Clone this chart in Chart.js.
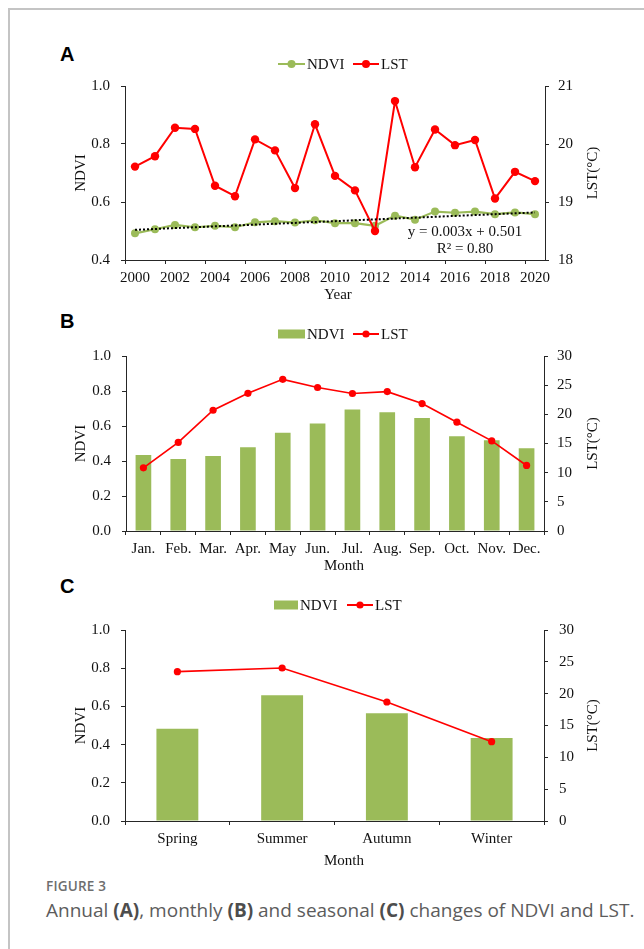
<!DOCTYPE html>
<html>
<head>
<meta charset="utf-8">
<script src="https://cdn.jsdelivr.net/npm/chart.js@4/dist/chart.umd.min.js"></script>
<style>
  html, body { margin: 0; padding: 0; background: #fff; }
  body { width: 644px; height: 949px; position: relative; overflow: hidden; }
  .frame { position: absolute; left: 8px; top: 8px; right: -4px; bottom: -4px;
           border-left: 2px solid #c4c4c4; border-top: 2px solid #c4c4c4; }
  canvas { position: absolute; left: 0; }
  .tag { position: absolute; font: bold 20px "Liberation Sans", Arial, sans-serif; color: #000; line-height: 20px; }
  .fig { position: absolute; left: 46px; top: 877px; font: 600 13.5px "Open Sans", sans-serif; color: #6e6e6e; letter-spacing: 0.2px; line-height: 18px; }
  .cap { position: absolute; left: 46px; top: 897px; font: 400 19px "Open Sans", sans-serif; color: #5c5c5c; white-space: nowrap; line-height: 26px; }
  .cap b { font-weight: 700; color: #4d4d4d; }
</style>
</head>
<body>
<div class="frame"></div>
<div class="tag" style="left:60px;top:44px;">A</div>
<div class="tag" style="left:60px;top:311px;">B</div>
<div class="tag" style="left:60px;top:576px;">C</div>
<div class="fig">FIGURE 3</div>
<div class="cap">Annual <b>(A)</b>, monthly <b>(B)</b> and seasonal <b>(C)</b> changes of NDVI and LST.</div>

<script>
// ---- Annual series (2000–2020) ----
const years = ['2000','2001','2002','2003','2004','2005','2006','2007','2008','2009','2010',
               '2011','2012','2013','2014','2015','2016','2017','2018','2019','2020'];
const ndviAnnual = [0.492, 0.506, 0.521, 0.513, 0.518, 0.513, 0.530, 0.534, 0.529, 0.537, 0.527,
                    0.527, 0.518, 0.553, 0.539, 0.567, 0.563, 0.567, 0.558, 0.564, 0.558];
const lstAnnual  = [19.61, 19.79, 20.28, 20.26, 19.28, 19.10, 20.08, 19.89, 19.24, 20.34, 19.45,
                    19.20, 18.50, 20.74, 19.60, 20.25, 19.98, 20.07, 19.06, 19.52, 19.36];
// Linear NDVI trend, as printed on the panel: y = 0.003x + 0.501, R² = 0.80
const trendSlope = 0.003;
const trendIntercept = 0.501;
const trendR2 = '0.80';

// ---- Monthly means ----
const months = ['Jan.','Feb.','Mar.','Apr.','May','Jun.','Jul.','Aug.','Sep.','Oct.','Nov.','Dec.'];
const ndviMonthly = [0.434, 0.411, 0.428, 0.479, 0.561, 0.614, 0.694, 0.679, 0.646, 0.542, 0.519, 0.473];
const lstMonthly  = [10.83, 15.18, 20.70, 23.60, 26.00, 24.60, 23.57, 23.90, 21.85, 18.65, 15.45, 11.24];

// ---- Seasonal means ----
const seasons = ['Spring','Summer','Autumn','Winter'];
const ndviSeasonal = [0.483, 0.658, 0.564, 0.435];
const lstSeasonal  = [23.45, 24.03, 18.69, 12.46];

// ---- Axis ranges ----
const ndviRangeAnnual = [0.4, 1.0, 0.2];
const lstRangeAnnual  = [18, 21, 1];
const ndviRange = [0, 1.0, 0.2];
const lstRange  = [0, 30, 5];

// ---- Styling ----
const GREEN = '#9BBB59';
const RED = '#FF0000';
const AXIS = '#262626';
const TEXT = '#111111';
const SERIF = '"Liberation Serif", "Times New Roman", serif';
const FONT = { family: SERIF, size: 15 };

// Draws legend, axis titles and free text for a panel (page coordinates shifted by panel top)
const decorPlugin = {
  id: 'decor',
  afterDraw(chart, args, opts) {
    const ctx = chart.ctx;
    const top = opts.panelTop;
    const ca = chart.chartArea;
    ctx.save();
    ctx.font = '15px ' + SERIF;
    ctx.fillStyle = TEXT;

    // legend
    let x = opts.legend.x;
    const ly = opts.legend.y - top;
    opts.legend.items.forEach(it => {
      const w = it.symbolWidth;
      if (it.kind === 'box') {
        ctx.fillStyle = it.color;
        ctx.fillRect(x, ly - 4.5, w, 9);
      } else {
        ctx.strokeStyle = it.color;
        ctx.lineWidth = 2;
        ctx.beginPath(); ctx.moveTo(x, ly); ctx.lineTo(x + w, ly); ctx.stroke();
        ctx.fillStyle = it.color;
        ctx.beginPath(); ctx.arc(x + w / 2, ly, it.radius, 0, Math.PI * 2); ctx.fill();
      }
      x += w + 2;
      ctx.fillStyle = TEXT;
      ctx.textAlign = 'left';
      ctx.textBaseline = 'alphabetic';
      ctx.fillText(it.label, x, ly + 5);
      x += ctx.measureText(it.label).width + opts.legend.gap;
    });

    // axis titles
    const cy = (ca.top + ca.bottom) / 2;
    ctx.fillStyle = TEXT;
    ctx.textAlign = 'center';
    ctx.textBaseline = 'alphabetic';
    [[opts.leftTitle, opts.leftTitleX], [opts.rightTitle, opts.rightTitleX]].forEach(([t, bx]) => {
      ctx.save();
      ctx.translate(bx, cy);
      ctx.rotate(-Math.PI / 2);
      ctx.fillText(t, 0, 0);
      ctx.restore();
    });
    ctx.fillText(opts.xTitle, opts.xTitleX, opts.xTitleY - top);

    // free notes
    (opts.notes || []).forEach(n => ctx.fillText(n.text, n.x, n.y - top));
    ctx.restore();
  }
};

function yScale(pos, range, width, fmt, pad) {
  return {
    position: pos,
    min: range[0], max: range[1],
    ticks: { stepSize: range[2], font: FONT, color: TEXT, padding: pad,
             callback: v => fmt(v) },
    grid: { drawOnChartArea: false, drawTicks: true, tickLength: 4, color: AXIS },
    border: { display: true, color: AXIS, width: 1 },
    afterFit(s) { s.width = width; }
  };
}

function xScale(height, everyOther) {
  return {
    type: 'category',
    offset: true,
    grid: { offset: true, drawOnChartArea: false, drawTicks: true, tickLength: 4,
            tickColor: c => (!everyOther || c.index % 2 === 0) ? AXIS : 'rgba(0,0,0,0)' },
    border: { display: true, color: AXIS, width: 1 },
    ticks: {
      autoSkip: false, maxRotation: 0, minRotation: 0, padding: 5, font: FONT, color: TEXT,
      callback(v, i) { return (!everyOther || i % 2 === 0) ? this.getLabelForValue(v) : ''; }
    },
    afterFit(s) { s.height = height; }
  };
}

function makePanel(geo, data, scales, decor) {
  const cv = document.createElement('canvas');
  cv.width = 644; cv.height = geo.height;
  cv.style.top = geo.top + 'px';
  cv.style.width = '644px'; cv.style.height = geo.height + 'px';
  document.body.appendChild(cv);
  decor.panelTop = geo.top;
  return new Chart(cv, {
    type: 'bar',
    data,
    options: {
      responsive: false, animation: false, devicePixelRatio: 1,
      layout: { padding: { top: geo.chartTop - geo.top, left: 0, right: 0, bottom: 0 } },
      plugins: { legend: { display: false }, tooltip: { enabled: false }, decor },
      scales
    },
    plugins: [decorPlugin]
  });
}

const f1 = v => v.toFixed(1);
const f0 = v => String(Math.round(v));

// ---- Panel A: annual ----
makePanel(
  { top: 40, height: 270, chartTop: 86 },
  {
    labels: years,
    datasets: [
      { type: 'line', label: 'Trend', yAxisID: 'y', order: 0,
        data: years.map((_, i) => trendSlope * (i + 1) + trendIntercept),
        borderColor: '#000', borderWidth: 2, borderDash: [2, 2], pointRadius: 0, tension: 0 },
      { type: 'line', label: 'LST', yAxisID: 'y1', order: 1, data: lstAnnual,
        borderColor: RED, borderWidth: 2, pointRadius: 4.2, pointBackgroundColor: RED,
        pointBorderWidth: 0, tension: 0 },
      { type: 'line', label: 'NDVI', yAxisID: 'y', order: 2, data: ndviAnnual,
        borderColor: GREEN, borderWidth: 2.2, pointRadius: 4, pointBackgroundColor: GREEN,
        pointBorderWidth: 0, tension: 0 }
    ]
  },
  {
    x: xScale(50, true),
    y: yScale('left', ndviRangeAnnual, 125, f1, 11),
    y1: yScale('right', lstRangeAnnual, 99, f0, 9)
  },
  {
    legend: { x: 278, y: 64, gap: 8.5, items: [
      { kind: 'line', label: 'NDVI', color: GREEN, symbolWidth: 27, radius: 4 },
      { kind: 'line', label: 'LST', color: RED, symbolWidth: 26, radius: 4 } ] },
    leftTitle: 'NDVI', leftTitleX: 85,
    rightTitle: 'LST(°C)', rightTitleX: 597,
    xTitle: 'Year', xTitleX: 338, xTitleY: 299,
    notes: [
      { text: 'y = ' + trendSlope.toFixed(3) + 'x + ' + trendIntercept.toFixed(3), x: 465, y: 236 },
      { text: 'R² = ' + trendR2, x: 465, y: 253 }
    ]
  }
);

// ---- Panel B: monthly ----
makePanel(
  { top: 310, height: 270, chartTop: 356 },
  {
    labels: months,
    datasets: [
      { type: 'line', label: 'LST', yAxisID: 'y1', order: 0, data: lstMonthly,
        borderColor: RED, borderWidth: 1.7, pointRadius: 3.6, pointBackgroundColor: RED,
        pointBorderWidth: 0, tension: 0 },
      { type: 'bar', label: 'NDVI', yAxisID: 'y', order: 1, data: ndviMonthly,
        backgroundColor: GREEN, categoryPercentage: 1, barPercentage: 0.45 }
    ]
  },
  {
    x: xScale(49, false),
    y: yScale('left', ndviRange, 126, f1, 11),
    y1: yScale('right', lstRange, 100, f0, 9)
  },
  {
    legend: { x: 278, y: 334, gap: 8.5, items: [
      { kind: 'box', label: 'NDVI', color: GREEN, symbolWidth: 27 },
      { kind: 'line', label: 'LST', color: RED, symbolWidth: 26, radius: 3.6 } ] },
    leftTitle: 'NDVI', leftTitleX: 85,
    rightTitle: 'LST(°C)', rightTitleX: 597,
    xTitle: 'Month', xTitleX: 344, xTitleY: 570
  }
);

// ---- Panel C: seasonal ----
makePanel(
  { top: 580, height: 290, chartTop: 630 },
  {
    labels: seasons,
    datasets: [
      { type: 'line', label: 'LST', yAxisID: 'y1', order: 0, data: lstSeasonal,
        borderColor: RED, borderWidth: 1.7, pointRadius: 3.6, pointBackgroundColor: RED,
        pointBorderWidth: 0, tension: 0 },
      { type: 'bar', label: 'NDVI', yAxisID: 'y', order: 1, data: ndviSeasonal,
        backgroundColor: GREEN, categoryPercentage: 1, barPercentage: 0.4 }
    ]
  },
  {
    x: xScale(49, false),
    y: yScale('left', ndviRange, 125, f1, 11),
    y1: yScale('right', lstRange, 100, f0, 11)
  },
  {
    legend: { x: 274, y: 605, gap: 9.5, items: [
      { kind: 'box', label: 'NDVI', color: GREEN, symbolWidth: 24 },
      { kind: 'line', label: 'LST', color: RED, symbolWidth: 26, radius: 3.6 } ] },
    leftTitle: 'NDVI', leftTitleX: 85,
    rightTitle: 'LST(°C)', rightTitleX: 597,
    xTitle: 'Month', xTitleX: 344, xTitleY: 865
  }
);
</script>
</body>
</html>
